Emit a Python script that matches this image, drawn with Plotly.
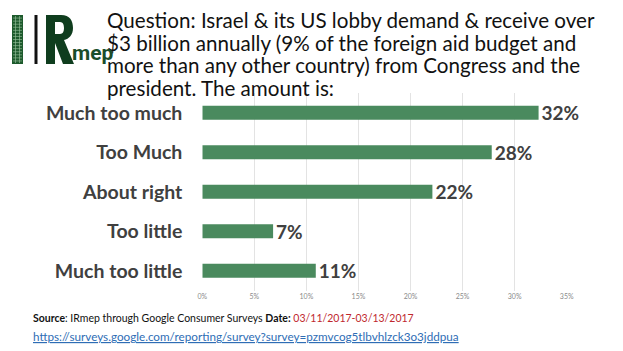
import plotly.graph_objects as go

categories = ["Much too much", "Too Much", "About right", "Too little", "Much too little"]
values = [32.3, 27.8, 22.1, 6.8, 10.9]
labels = ["32%", "28%", "22%", "7%", "11%"]
tick_vals = [0, 5, 10, 15, 20, 25, 30, 35]
tick_text = ["0%", "5%", "10%", "15%", "20%", "25%", "30%", "35%"]
title_lines = [
    "Question: Israel &amp; its US lobby demand &amp; receive over",
    "$3 billion annually (9% of the foreign aid budget and",
    "more than any other country) from Congress and the",
    "president. The amount is:",
]

W, H = 623, 351
def px(x): return x / W
def py(y): return 1 - y / H

fig = go.Figure()
fig.add_trace(go.Bar(
    x=values, y=categories, orientation="h",
    marker=dict(color="#4a8a5e", line=dict(width=0)),
    text=labels, textposition="outside", cliponaxis=False, constraintext="none",
    textfont=dict(family="Lato", size=19, color="#404040", weight="bold"),
))

fig.update_layout(
    width=W, height=H,
    margin=dict(l=0, r=0, t=0, b=0),
    paper_bgcolor="white", plot_bgcolor="white",
    showlegend=False, bargap=0.645,
    font=dict(family="Lato"),
    xaxis=dict(domain=[px(202.3), px(566.9)], range=[0, 35.02],
               tickvals=tick_vals, ticktext=tick_text,
               showgrid=True, gridcolor="#e3e3e3", gridwidth=1,
               zeroline=False, showline=False, automargin=False,
               tickfont=dict(size=7, color="#8a8a8a"), ticklen=0),
    yaxis=dict(domain=[py(290.5), py(93)], autorange="reversed",
               tickfont=dict(size=19.5, color="#404040", weight="bold"),
               ticklen=0, ticklabelstandoff=19, showline=False, showgrid=False,
               automargin=False),
)

# Title text, one annotation per line
for i, line in enumerate(title_lines):
    fig.add_annotation(text=line, xref="paper", yref="paper", x=px(105), y=py(20 + i * 22.7),
                       xanchor="left", yanchor="middle", showarrow=False, align="left",
                       font=dict(family="Lato", size=20.6, color="#111111"))

# Logo
shapes = []
shapes.append(dict(type="rect", xref="paper", yref="paper", x0=px(12), x1=px(23), y0=py(64), y1=py(15),
                   fillcolor="#1d5a2c", line=dict(width=0), layer="above"))
for i in range(1, 16):
    yy = 15 + i * (49 / 16)
    shapes.append(dict(type="line", xref="paper", yref="paper", x0=px(13), x1=px(22), y0=py(yy), y1=py(yy),
                       line=dict(color="#9cc49f", width=0.6), layer="above"))
for xx in [15.5, 19.5]:
    shapes.append(dict(type="line", xref="paper", yref="paper", x0=px(xx), x1=px(xx), y0=py(63), y1=py(16),
                       line=dict(color="#9cc49f", width=0.6), layer="above"))
shapes.append(dict(type="rect", xref="paper", yref="paper", x0=px(34.5), x1=px(37.5), y0=py(64), y1=py(15),
                   fillcolor="#111111", line=dict(width=0), layer="above"))

def P(x, y):
    return f"{px(x):.5f},{py(y):.5f}"

r_path = (f"M{P(46,15)} L{P(61,15)} C{P(70,15)} {P(73,21)} {P(73,28)} C{P(73,35)} {P(69,39)} {P(64,40)} "
          f"L{P(74,64)} L{P(63,64)} L{P(55,43)} L{P(55,64)} L{P(46,64)} Z "
          f"M{P(55,22)} L{P(55,34)} L{P(60,34)} C{P(63,34)} {P(64,31)} {P(64,28)} C{P(64,25)} {P(63,22)} {P(60,22)} Z")
shapes.append(dict(type="path", xref="paper", yref="paper", path=r_path,
                   fillcolor="#0f3d1e", line=dict(width=0), layer="above"))
fig.update_layout(shapes=shapes)
fig.add_annotation(text="<b>mep</b>", xref="paper", yref="paper", x=px(70), y=py(53), xanchor="left", yanchor="middle",
                   showarrow=False, font=dict(family="Roboto", size=21, color="#1a4d2a"))

# Source
source = ("<b>Source</b>: IRmep through Google Consumer Surveys <b>Date:</b> "
          "<span style='color:#c0282d'>03/11/2017-03/13/2017</span>")
fig.add_annotation(text=source, xref="paper", yref="paper", x=px(31), y=py(318), xanchor="left", yanchor="middle",
                   showarrow=False, font=dict(family="Lato", size=10.5, color="#111111"))
fig.add_annotation(text="<u>https://surveys.google.com/reporting/survey?survey=pzmvcog5tlbvhlzck3o3jddpua</u>",
                   xref="paper", yref="paper", x=px(31), y=py(336), xanchor="left", yanchor="middle",
                   showarrow=False, font=dict(family="Lato", size=11.7, color="#2e6db5"))

fig.write_html("out.html")
